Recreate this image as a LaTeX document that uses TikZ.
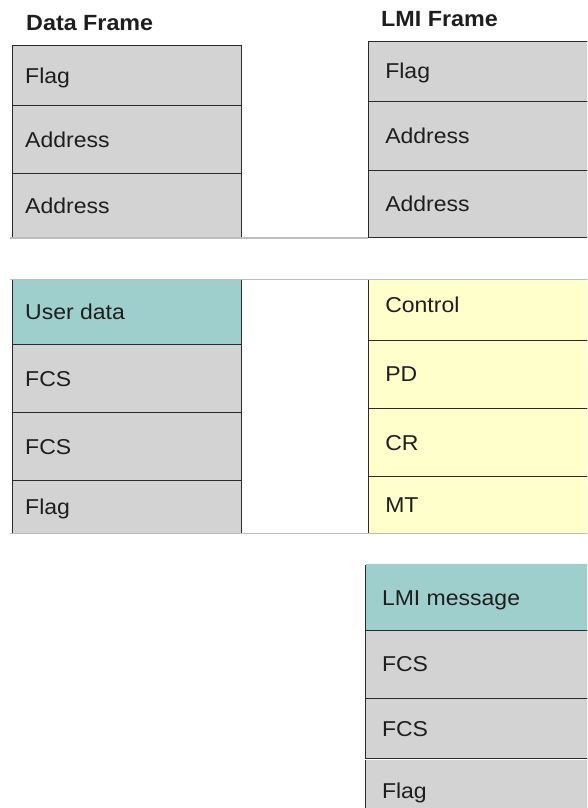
\documentclass[tikz,border=0pt]{standalone}
\usepackage{fontspec}
\setmainfont{Liberation Sans}
\newfontfamily\rowfamily[FakeStretch=1.07]{Liberation Sans}
\newfontfamily\titlefamily[FakeStretch=1.06]{Liberation Sans}
\definecolor{cellgrey}{HTML}{D3D3D3}
\definecolor{cellteal}{HTML}{9ECFCC}
\definecolor{cellyellow}{HTML}{FFFFCC}
\definecolor{frameline}{HTML}{2A2A2A}
\definecolor{tearline}{HTML}{BDBDBD}
\definecolor{inktext}{HTML}{1E1E1E}
\begin{document}
\begin{tikzpicture}[x=1pt,y=-1pt,
  fieldbox/.style={draw=frameline, line width=0.9pt, anchor=north west, outer sep=0pt,
    inner ysep=0pt, text height=15.4pt, text depth=0pt,
    execute at end node={\hfil\egroup},
    font=\rowfamily\fontsize{21.5pt}{24pt}\selectfont, text=inktext},
  datafield/.style={fieldbox, inner xsep=12.5pt, minimum width=228.6pt,
    execute at begin node={\hbox to 203.6pt\bgroup}},
  lmifield/.style={fieldbox, inner xsep=17pt, minimum width=300pt,
    execute at begin node={\hbox to 266pt\bgroup}},
  grey/.style={fill=cellgrey},
  teal/.style={fill=cellteal},
  yellow/.style={fill=cellyellow},
  titletext/.style={anchor=base west, inner sep=0pt, text=inktext,
    font=\titlefamily\bfseries\fontsize{22pt}{26pt}\selectfont},
  tear/.style={draw=tearline, line width=1.4pt}]
\useasboundingbox (0,0) rectangle (587,808);
\clip (0,0) rectangle (587,808);
\fill[white] (0,0) rectangle (587,808);

% titles
\node[titletext] (tdata) at (26,31) {Data Frame};
\node[titletext] (tlmi) at (381,26.7) {LMI Frame};

% data frame, top part
\node[datafield, grey, minimum height=60.7pt] (d1) at (12.7,45) {Flag};
\node[datafield, grey, minimum height=67.6pt] (d2) at (12.7,105.7) {Address};
\node[datafield, grey, minimum height=64.7pt] (d3) at (12.7,173.3) {Address};

% LMI frame, top part
\node[lmifield, grey, minimum height=60pt] (l1) at (368.3,41) {Flag};
\node[lmifield, grey, minimum height=69pt] (l2) at (368.3,101) {Address};
\node[lmifield, grey, minimum height=67.7pt] (l3) at (368.3,170) {Address};

% data frame, lower part
\node[datafield, teal, minimum height=65pt] (d4) at (12.7,279.3) {User data};
\node[datafield, grey, minimum height=68.4pt] (d5) at (12.7,344.3) {FCS};
\node[datafield, grey, minimum height=68pt] (d6) at (12.7,412.7) {FCS};
\node[datafield, grey, minimum height=52.6pt] (d7) at (12.7,480.7) {Flag};

% LMI frame, lower part
\node[lmifield, yellow, minimum height=61pt, text depth=9.6pt] (l4) at (368.3,279) {Control};
\node[lmifield, yellow, minimum height=68.3pt] (l5) at (368.3,340) {PD};
\node[lmifield, yellow, minimum height=68.4pt] (l6) at (368.3,408.3) {CR};
\node[lmifield, yellow, minimum height=56.6pt] (l7) at (368.3,476.7) {MT};

% LMI frame, last part
\node[lmifield, teal, minimum height=65pt] (b1) at (365,565) {LMI message};
\node[lmifield, grey, minimum height=68.3pt] (b2) at (365,630) {FCS};
\node[lmifield, grey, minimum height=60pt] (b3) at (365,698.3) {FCS};
\node[lmifield, grey, minimum height=63pt] (b4) at (365,759.5) {Flag};

% torn edges
\coordinate (tearA1) at (10,238);
\coordinate (tearA2) at (368.3,238);
\coordinate (tearB1) at (10,279.3);
\coordinate (tearB2) at (587,279.3);
\coordinate (tearC1) at (10,533.3);
\coordinate (tearC2) at (587,533.3);
\draw[tear] (tearA1) -- (tearA2);
\draw[tear] (tearB1) -- (tearB2);
\draw[tear] (tearC1) -- (tearC2);
\draw[draw=cellteal, line width=1.2pt] ([xshift=0.6pt]b1.north west) -- (b1.north east);
\draw[draw=white, line width=1.3pt] ([yshift=0.2pt]b4.north west) -- ([yshift=0.2pt]b4.north east);
\end{tikzpicture}
\end{document}
